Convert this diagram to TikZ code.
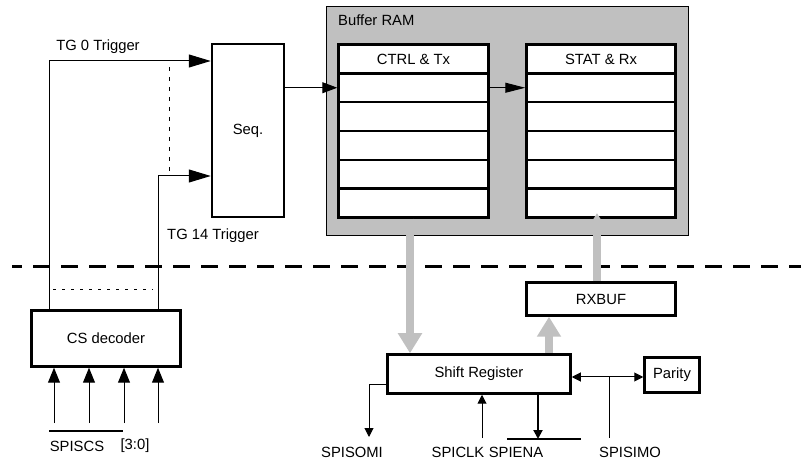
\documentclass[tikz,border=0pt]{standalone}
\usepackage{fontspec}
\setmainfont{Liberation Sans}
\usetikzlibrary{arrows.meta,calc}
\definecolor{ramgray}{HTML}{C0C0C0}
\begin{document}
\begin{tikzpicture}[x=1pt,y=-1pt,
  font=\fontsize{14.8}{17}\selectfont,
  blk/.style={draw, line width=2.5pt, fill=white, inner sep=0pt},
  thinline/.style={line width=1pt},
  bigtip/.style={-{Triangle[length=22pt,width=13pt]}},
  midtip/.style={-{Triangle[length=15pt,width=11pt]}},
  longtip/.style={-{Triangle[length=20pt,width=10pt]}},
  intip/.style={-{Triangle[length=15pt,width=12pt]}},
  smalltip/.style={-{Triangle[length=9pt,width=9pt]}},
  fat/.style={draw=ramgray, line width=8pt, -{Triangle[length=20pt,width=23pt]}},
  lbl/.style={inner sep=0pt}]
\useasboundingbox (0,0) rectangle (801,462);

% Buffer RAM
\node[draw=black, line width=1pt, fill=ramgray, minimum width=362pt, minimum height=229pt, inner sep=0pt] (ram) at (507,121.5) {};
\node[lbl, anchor=west] (ramlbl) at (338,20) {Buffer RAM};

\foreach \i in {0,...,5} {
  \node[blk, minimum width=150pt, minimum height=28.83pt] (ctrl\i) at (413.5,{44.5+28.83*\i+14.415}) {};
  \node[blk, minimum width=149pt, minimum height=28.83pt] (stat\i) at (601,{44.5+28.83*\i+14.415}) {};
}
\node[lbl] (ctrllbl) at (ctrl0) {CTRL \& Tx};
\node[lbl] (statlbl) at (stat0) {STAT \& Rx};

% Blocks
\node[blk, minimum width=72pt, minimum height=173pt] (seq) at (248,130.5) {Seq.};
\node[blk, minimum width=149pt, minimum height=56pt] (csd) at (106,338.5) {CS decoder};
\node[blk, minimum width=183pt, minimum height=39pt] (shift) at (479,374) {Shift Register};
\node[blk, minimum width=149pt, minimum height=33pt] (rxbuf) at (601,299) {RXBUF};
\node[blk, minimum width=55pt, minimum height=35pt] (parity) at (672,375) {Parity};

% Separator
\draw[line width=3pt, dash pattern=on 17pt off 11pt, dash phase=7pt] (12,267) -- (801,267);

% Triggers
\coordinate (tg0) at (49,61);
\coordinate (tg14) at (158,176);
\draw[thinline, bigtip] (csd.north -| tg0) -- (tg0) -- (seq.west |- tg0);
\draw[thinline, bigtip] (csd.north -| tg14) -- (tg14) -- (seq.west |- tg14);
\node[lbl] (tg0lbl) at (98,47) {TG 0 Trigger};
\node[lbl] (tg14lbl) at (213,236) {TG 14 Trigger};
\draw[thinline, dash pattern=on 4pt off 6pt] (169,67) -- (169,172);
\draw[thinline, dash pattern=on 3pt off 6pt] (53,290) -- (153,290);

% Seq -> RAM
\draw[thinline, midtip] (seq.east |- ctrl1.west) -- (ctrl1.west);
\draw[thinline, longtip] (ctrl1.east) -- (stat1.west);

% CS inputs
\foreach \x/\n in {54/1,89/2,124/3,158/4} {
  \coordinate (in\n) at (\x,423);
  \draw[thinline, intip] (in\n) -- (in\n |- csd.south);
}
\coordinate (barL) at (49,431);
\coordinate (barR) at (123,431);
\draw[line width=1.7pt] (barL) -- (barR);
\node[lbl] (spiscs) at (77,446) {SPISCS};
\node[lbl] (bits) at (135,446) {[3:0]};

% Gray data arrows
\draw[fat] ([xshift=-3.5pt]ctrl5.south) -- ([xshift=-3.5pt]ctrl5.south |- shift.north);
\draw[fat] ([xshift=-4pt]rxbuf.north) -- ([xshift=-4pt,yshift=5.75pt]stat5.south);
\coordinate (xsr) at (549,0);
\draw[fat] (shift.north -| xsr) -- (rxbuf.south -| xsr);

% Shift register signals
\coordinate (bus) at (609,377);
\coordinate (simo) at (609,438);
\draw[thinline, {Triangle[length=9pt,width=9pt]}-{Triangle[length=9pt,width=9pt]}] (shift.east |- bus) -- (parity.west |- bus);
\draw[thinline] (bus) -- (simo);
\node[lbl] (simolbl) at (630,452) {SPISIMO};

\coordinate (somiA) at (369,385);
\coordinate (somiB) at (369,437);
\draw[thinline, smalltip] (shift.west |- somiA) -- (somiA) -- (somiB);
\node[lbl] (somilbl) at (352,452) {SPISOMI};

\coordinate (clk) at (482,438);
\draw[thinline, smalltip] (clk) -- (clk |- shift.south);
\node[lbl] (clklbl) at (458,452) {SPICLK};

\coordinate (ena) at (538,439);
\coordinate (enaL) at (507,439);
\coordinate (enaR) at (581,439);
\draw[line width=2pt, smalltip] (ena |- shift.south) -- (ena);
\draw[line width=2pt] (enaL) -- (enaR);
\node[lbl] (enalbl) at (516,452) {SPIENA};
\end{tikzpicture}
\end{document}
